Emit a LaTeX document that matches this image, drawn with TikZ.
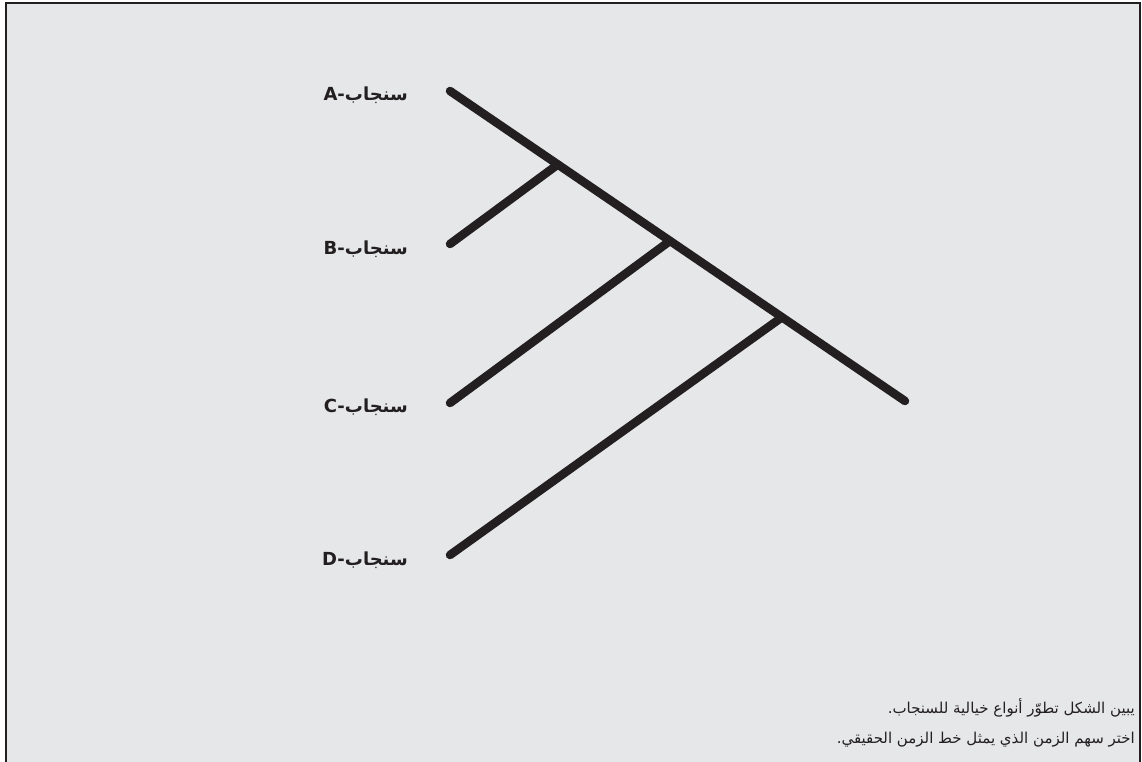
\documentclass[tikz,border=0pt]{standalone}
\usepackage{fontspec}
\usetikzlibrary{calc}
\setmainfont{DejaVu Sans}
\newfontfamily\arabicfont[Script=Arabic]{DejaVu Sans}
\TeXXeTstate=1
\definecolor{bg}{HTML}{E6E7E8}
\definecolor{ink}{HTML}{231F20}
\tikzset{
  branch/.style={draw=ink, line width=8.5pt, line cap=round},
  lbl/.style={anchor=base east, inner sep=0pt, font=\fontsize{18}{21}\selectfont\bfseries, text=ink},
  note/.style={anchor=base east, inner sep=0pt, font=\fontsize{15}{18}\selectfont, text=ink},
}
\begin{document}
\begin{tikzpicture}[x=1pt,y=-1pt]
\useasboundingbox (0,0) rectangle (1142,762);
\fill[bg] (6,3) rectangle (1140,762);
\draw[ink, line width=2.5pt] (6,762) -- (6,3) -- (1140,3) -- (1140,762);
\coordinate (a) at (450,91);
\coordinate (e) at (905,401);
\coordinate (jb) at ($(a)!0.237!(e)$);
\coordinate (jc) at ($(a)!0.4835!(e)$);
\coordinate (jd) at ($(a)!0.7297!(e)$);
\coordinate (b) at (450,244);
\coordinate (c) at (450,403);
\coordinate (d) at (450,555);
\draw[branch] (a) -- (e);
\draw[branch] (b) -- (jb);
\draw[branch] (c) -- (jc);
\draw[branch] (d) -- (jd);
\node[lbl] (la) at (408,101) {A-{\arabicfont\beginR سنجاب\endR}};
\node[lbl] (lb) at (408,254) {B-{\arabicfont\beginR سنجاب\endR}};
\node[lbl] (lc) at (408,412) {C-{\arabicfont\beginR سنجاب\endR}};
\node[lbl] (ld) at (408,565) {D-{\arabicfont\beginR سنجاب\endR}};
\node[note] (n1) at (1135,713) {\arabicfont\beginR يبين الشكل تطوّر أنواع خيالية للسنجاب.\endR};
\node[note] (n2) at (1135,743) {\arabicfont\beginR اختر سهم الزمن الذي يمثل خط الزمن الحقيقي.\endR};
\end{tikzpicture}
\end{document}
